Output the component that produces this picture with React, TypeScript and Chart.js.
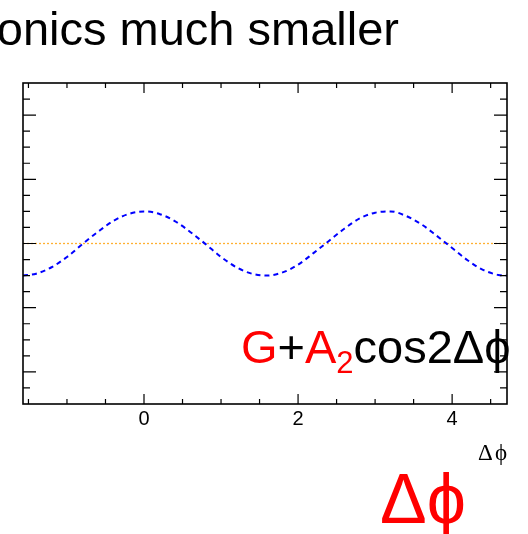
import React, { useEffect, useRef } from "react";
import { Chart, registerables } from "chart.js";

Chart.register(...registerables);

// ---------- data ----------
const TITLE = "Higher harmonics much smaller";
const X_MIN = -1.5708;
const X_MAX = 4.7124;
const Y_MIN = 0.5;
const Y_MAX = 5.5;

const phiValues = [
  -1.5708, -1.4, -1.2, -1.0, -0.8, -0.6, -0.4, -0.2, 0, 0.2, 0.4, 0.6, 0.8, 1.0,
  1.2, 1.4, 1.6, 1.8, 2.0, 2.2, 2.4, 2.6, 2.8, 3.0, 3.2, 3.4, 3.6, 3.8, 4.0, 4.2,
  4.4, 4.6, 4.7124,
];
const fitValues = [
  2.5, 2.53, 2.63, 2.79, 2.99, 3.18, 3.35, 3.46, 3.5, 3.46, 3.35, 3.18, 2.99, 2.79,
  2.63, 2.53, 2.5, 2.55, 2.67, 2.85, 3.04, 3.23, 3.39, 3.48, 3.5, 3.43, 3.3, 3.12,
  2.93, 2.74, 2.59, 2.51, 2.5,
];
const baselineX = [X_MIN, X_MAX];
const baselineY = [3, 3];

const xLabelTicks = [0, 2, 4];
const xMinorTicks = [-1.5, -1, -0.5, 0.5, 1, 1.5, 2.5, 3, 3.5, 4.5];
const yMajorTicks = [1, 2, 3, 4, 5];
const yMinorTicks = [
  0.75, 1.25, 1.5, 1.75, 2.25, 2.5, 2.75, 3.25, 3.5, 3.75, 4.25, 4.5, 4.75, 5.25,
];

const SANS = '"Liberation Sans", Arial, Helvetica, sans-serif';
const SERIF = '"Liberation Serif", "Times New Roman", serif';

const decorPlugin = {
  id: "decor",
  afterDraw(chart: any) {
    const ctx = chart.ctx as CanvasRenderingContext2D;
    const { left, right, top, bottom } = chart.chartArea;
    const xs = chart.scales.x;
    const ys = chart.scales.y;
    ctx.save();

    // frame
    ctx.strokeStyle = "#000";
    ctx.lineWidth = 1.6;
    ctx.strokeRect(left, top, right - left, bottom - top);

    ctx.lineWidth = 1.2;
    ctx.beginPath();
    // x ticks (bottom and top, inward)
    const xt = (v: number, len: number) => {
      const px = xs.getPixelForValue(v);
      ctx.moveTo(px, bottom);
      ctx.lineTo(px, bottom - len);
      ctx.moveTo(px, top);
      ctx.lineTo(px, top + len);
    };
    xLabelTicks.forEach((v) => xt(v, 10));
    xMinorTicks.forEach((v) => xt(v, 5));
    // y ticks (left and right, inward)
    const yt = (v: number, len: number) => {
      const py = ys.getPixelForValue(v);
      ctx.moveTo(left, py);
      ctx.lineTo(left + len, py);
      ctx.moveTo(right, py);
      ctx.lineTo(right - len, py);
    };
    yMajorTicks.forEach((v) => yt(v, 13));
    yMinorTicks.forEach((v) => yt(v, 7));
    ctx.stroke();

    // x tick labels
    ctx.fillStyle = "#000";
    ctx.font = `20px ${SANS}`;
    ctx.textAlign = "center";
    ctx.textBaseline = "alphabetic";
    xLabelTicks.forEach((v) => {
      ctx.fillText(String(v), xs.getPixelForValue(v), 425);
    });

    // x axis title (small, serif)
    ctx.font = `23px ${SERIF}`;
    ctx.textAlign = "left";
    ctx.fillText("Δ", 478, 460);
    ctx.fillText("ϕ", 495, 460);

    // title (clipped on the left)
    ctx.font = `47px ${SANS}`;
    ctx.textAlign = "right";
    ctx.fillText(TITLE, 399, 45);

    // formula label
    ctx.textAlign = "left";
    let x = 241;
    const base = 363;
    const part = (t: string, color: string, size: number, dy = 0) => {
      ctx.font = `${size}px ${SANS}`;
      ctx.fillStyle = color;
      ctx.fillText(t, x, base + dy);
      x += ctx.measureText(t).width;
    };
    part("G", "#ff0000", 47);
    part("+", "#000", 47);
    part("A", "#ff0000", 47);
    part("2", "#ff0000", 31, 10);
    part("cos2Δϕ", "#000", 47);

    // big red Δϕ
    ctx.font = `70px ${SANS}`;
    ctx.fillStyle = "#ff0000";
    ctx.textAlign = "left";
    ctx.fillText("Δϕ", 380, 523);

    ctx.restore();
  },
};

export default function App() {
  const ref = useRef<HTMLCanvasElement | null>(null);
  useEffect(() => {
    document.body.style.margin = "0";
    const canvas = ref.current!;
    const chart = new Chart(canvas, {
      type: "line",
      data: {
        datasets: [
          {
            label: "fit",
            data: phiValues.map((p, i) => ({ x: p, y: fitValues[i] })),
            borderColor: "#0000ff",
            borderWidth: 2,
            borderDash: [5, 4],
            pointRadius: 0,
            cubicInterpolationMode: "monotone",
            fill: false,
          },
          {
            label: "G",
            data: baselineX.map((p, i) => ({ x: p, y: baselineY[i] })),
            borderColor: "#ffb030",
            borderWidth: 1.3,
            borderDash: [2, 2],
            pointRadius: 0,
            fill: false,
          },
        ],
      },
      options: {
        responsive: false,
        animation: false,
        devicePixelRatio: 1,
        layout: { padding: { left: 23, top: 83, right: 21, bottom: 130 } },
        plugins: {
          legend: { display: false },
          tooltip: { enabled: false },
          title: { display: false },
        },
        scales: {
          x: { type: "linear", min: X_MIN, max: X_MAX, display: false },
          y: { type: "linear", min: Y_MIN, max: Y_MAX, display: false },
        },
      },
      plugins: [decorPlugin],
    });
    return () => chart.destroy();
  }, []);
  return (
    <div style={{ position: "fixed", left: 0, top: 0, width: 528, height: 534, background: "#fff" }}>
      <canvas ref={ref} width={528} height={534} style={{ display: "block" }} />
    </div>
  );
}
